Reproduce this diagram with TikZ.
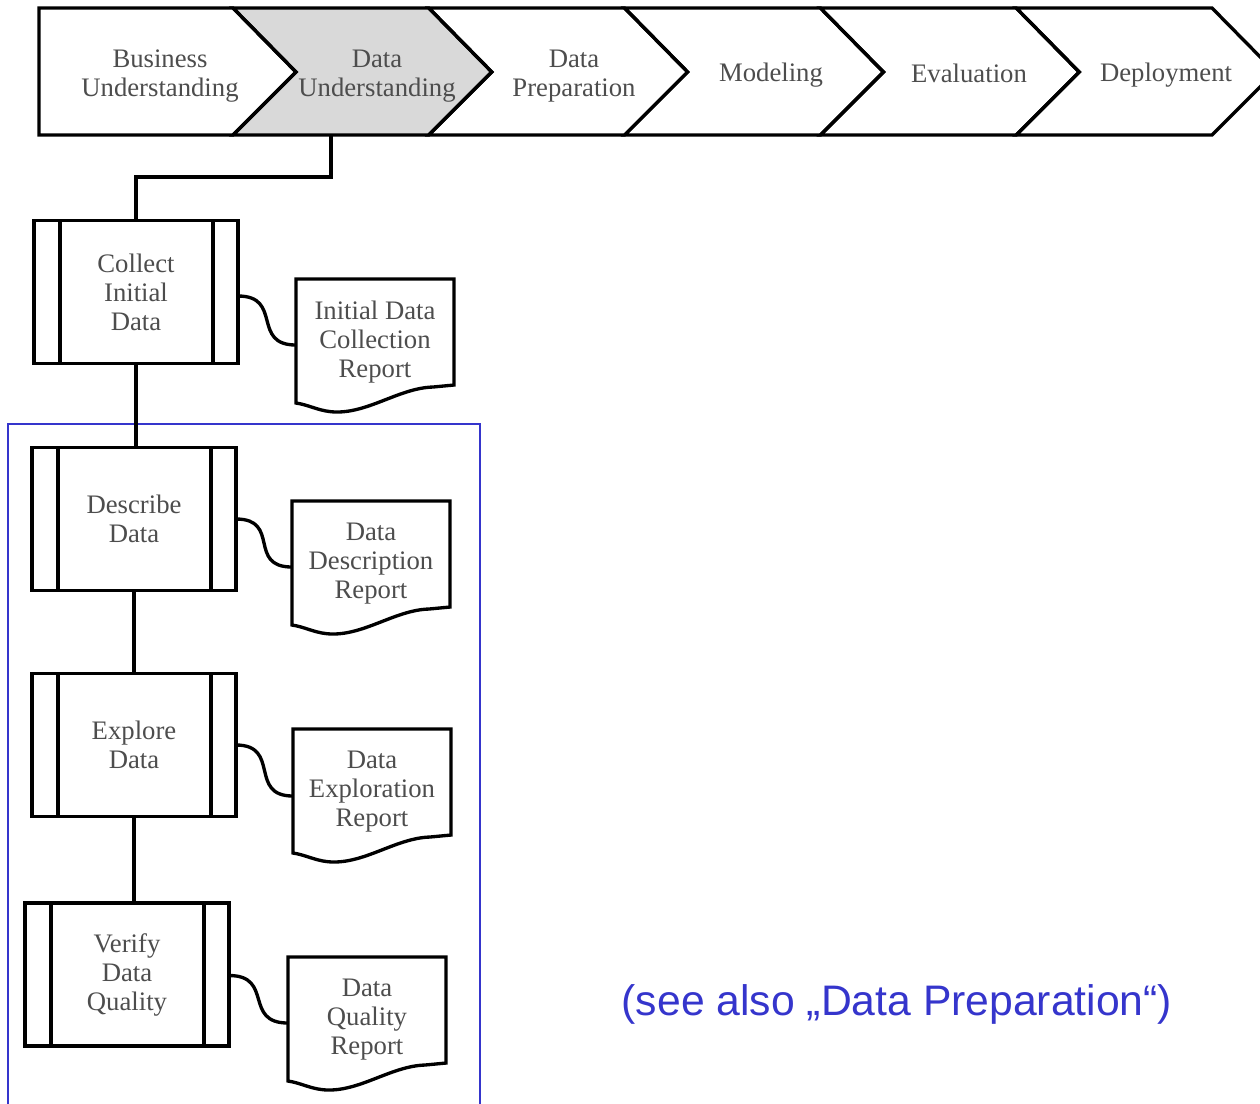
\documentclass[tikz,border=0pt]{standalone}
\usepackage{fontspec}
\setmainfont{Liberation Serif}
\newfontfamily\arialfont{Liberation Sans}
\usetikzlibrary{calc}
\definecolor{txtgray}{HTML}{4D4D4D}
\definecolor{chevgray}{HTML}{D9D9D9}
\definecolor{noteblue}{HTML}{3535CC}
\begin{document}
\begin{tikzpicture}[x=0.02cm,y=-0.02cm,
  lbl/.style={font=\fontsize{15.2}{16.5}\selectfont, text=txtgray, align=center, inner sep=0pt},
  blk/.style={draw=black, line width=1.9pt, line join=miter},
  chev/.style={blk},
  proc/.style={blk, lbl, outer sep=0pt, minimum width=4.08cm, minimum height=2.86cm},
  docbox/.style={lbl, outer sep=0pt, minimum width=3.16cm, minimum height=2.52cm},
  conn/.style={draw=black, line width=1.9pt},
  frame/.style={draw=noteblue, line width=0.9pt},
  note/.style={font=\arialfont\fontsize{24.3}{28}\selectfont, text=noteblue, inner sep=0pt}
]
\useasboundingbox (0,0) rectangle (1260,1103);
\clip (0,0) rectangle (1260,1103);

% blue frame
\draw[frame] (8,1115) -- (8,424) -- (480,424) -- (480,1115);

% phase chevrons
\fill[chevgray] (233,8) -- (428.8,8) -- (491.8,72) -- (428.8,135) -- (233,135) -- (296,72) -- cycle;
\draw[chev] (39,8) -- (233,8) -- (296,72) -- (233,135) -- (39,135) -- cycle;
\foreach \L in {233,428.8,624.6,820.4,1016.2} {
  \draw[chev] (\L,8) -- ({\L+195.8},8) -- ({\L+258.8},72) -- ({\L+195.8},135) -- (\L,135) -- ({\L+63},72) -- cycle;
}
\node[lbl] (bu) at (160,76) {Business\\Understanding};
\node[lbl] (du) at (377,76) {Data\\Understanding};
\node[lbl] (dp) at (574,76) {Data\\Preparation};
\node[lbl] (mo) at (771,75) {Modeling};
\node[lbl] (ev) at (969,73) {Evaluation};
\node[lbl] (de) at (1166,75) {Deployment};
\coordinate (dub) at (331,135);

% tasks
\node[proc] (collect) at (136,292) {Collect\\Initial\\Data};
\node[proc] (describe) at (134,519) {Describe\\Data};
\node[proc] (explore) at (134,745) {Explore\\Data};
\node[proc] (verify) at (127,974.5) {Verify\\Data\\Quality};
\foreach \n in {collect,describe,explore,verify} {
  \draw[blk] ($(\n.north west)+(26,0)$) -- ($(\n.south west)+(26,0)$);
  \draw[blk] ($(\n.north east)+(-25,0)$) -- ($(\n.south east)+(-25,0)$);
}

% outputs
\node[docbox] (r1) at (375,342) {Initial Data\\Collection\\Report};
\node[docbox] (r2) at (371,564) {Data\\Description\\Report};
\node[docbox] (r3) at (372,792) {Data\\Exploration\\Report};
\node[docbox] (r4) at (367,1020) {Data\\Quality\\Report};
\foreach \r in {r1,r2,r3,r4} {
  \draw[blk] (\r.north west) -- (\r.north east) -- ($(\r.north east)+(0,106)$)
    -- ($(\r.north east)+(-21,108)$)
    .. controls ($(\r.north east)+(-54,109)$) and ($(\r.north west)+(74,133)$) .. ($(\r.north west)+(41,133)$)
    .. controls ($(\r.north west)+(24,133)$) and ($(\r.north west)+(14,126)$) .. ($(\r.north west)+(0,124)$)
    -- cycle;
}

% connectors
\draw[conn] (dub) -- ++(0,42) -| (collect.north);
\draw[conn] (collect.south) -- (collect.south |- describe.north);
\draw[conn] (describe.south) -- (explore.north);
\draw[conn] (explore.south) -- (explore.south |- verify.north);
\draw[conn] ($(collect.east)+(0,4)$) .. controls +(45,0) and +(-45,0) .. ($(r1.north west)+(0,66)$);
\draw[conn] (describe.east) .. controls +(45,0) and +(-45,0) .. ($(r2.north west)+(0,66)$);
\draw[conn] (explore.east) .. controls +(45,0) and +(-45,0) .. ($(r3.north west)+(0,67)$);
\draw[conn] ($(verify.east)+(0,1)$) .. controls +(45,0) and +(-45,0) .. ($(r4.north west)+(0,66)$);

% note
\node[note] (see) at (897,1004) {(see also „Data Preparation“)};
\end{tikzpicture}
\end{document}
